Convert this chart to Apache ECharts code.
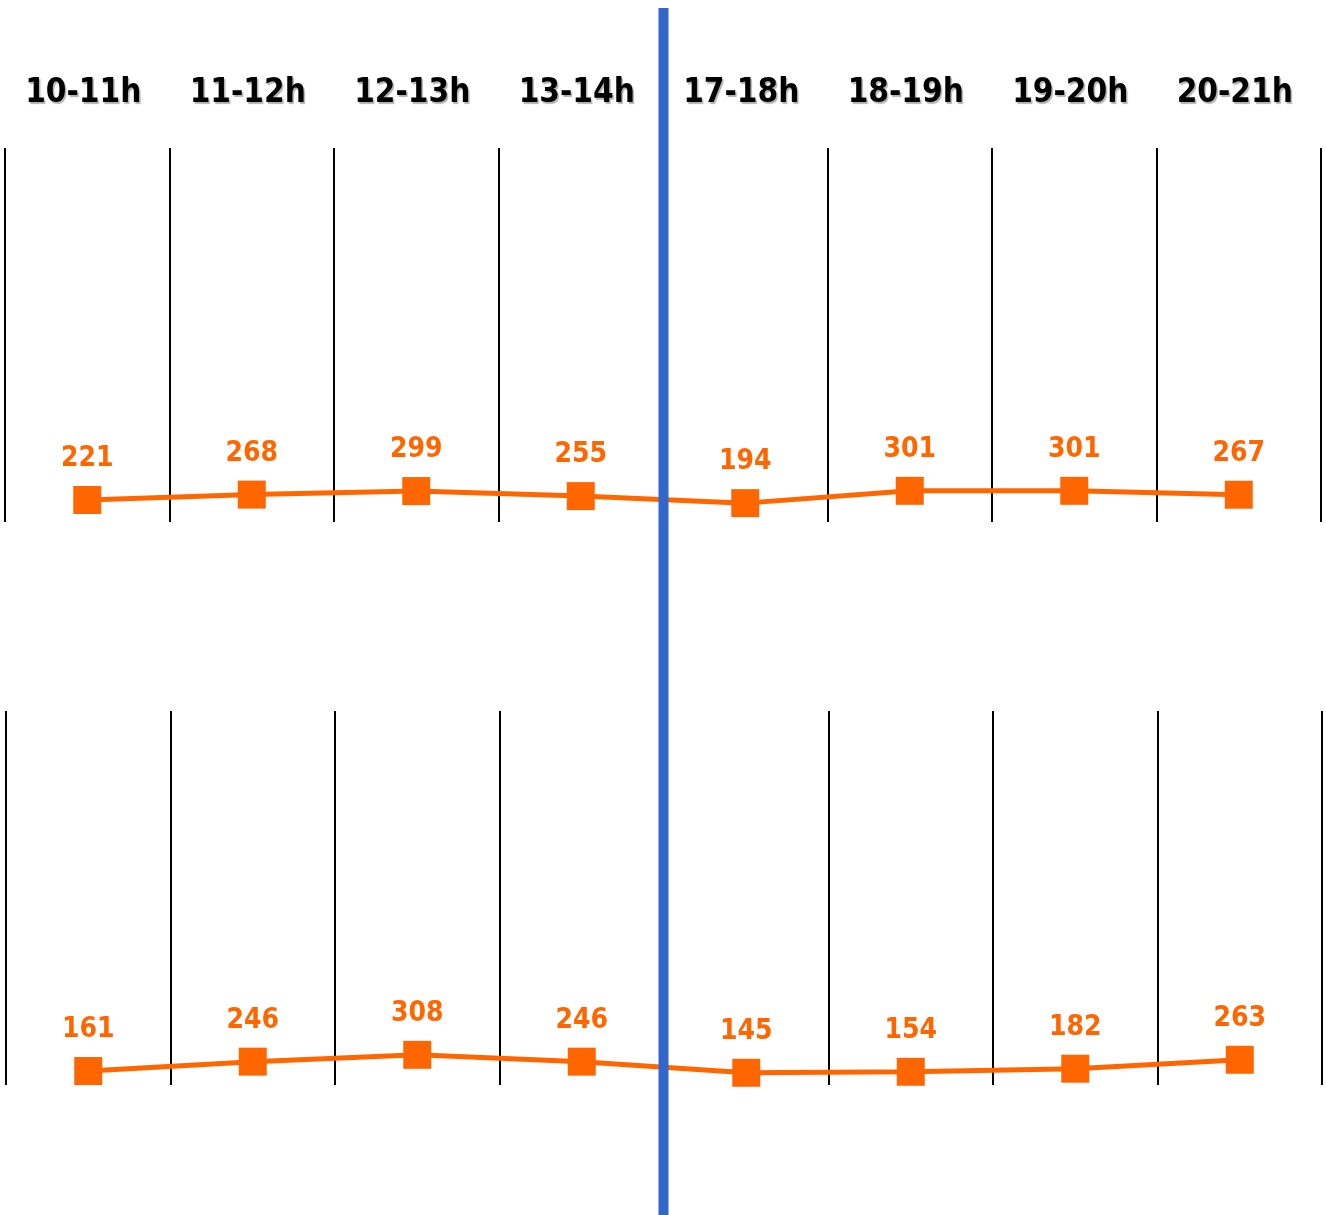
<!DOCTYPE html>
<html>
<head>
<meta charset="utf-8">
<script src="https://cdn.jsdelivr.net/npm/echarts@6/dist/echarts.min.js"></script>
<style>
html,body{margin:0;padding:0;background:#fff;}
#chart{width:1326px;height:1215px;}
</style>
</head>
<body>
<div id="chart"></div>
<script>
const categories = ['10-11h','11-12h','12-13h','13-14h','17-18h','18-19h','19-20h','20-21h'];
const seriesTop = [221, 268, 299, 255, 194, 301, 301, 267];
const seriesBottom = [161, 246, 308, 246, 145, 154, 182, 263];

const FONT = '"DejaVu Sans Condensed", "DejaVu Sans", sans-serif';
const ORANGE = '#FF6600';

const chart = echarts.init(document.getElementById('chart'), null, {renderer: 'canvas'});

function xAxisDef(gridIndex, showLabels) {
  return {
    type: 'category',
    gridIndex: gridIndex,
    data: categories,
    position: 'top',
    boundaryGap: true,
    axisLine: {show: false},
    axisTick: {show: false},
    axisLabel: {
      show: showLabels,
      margin: 38,
      color: '#000',
      fontFamily: FONT,
      fontWeight: 'bold',
      fontSize: 33,
      padding: [0, 8, 0, 0],
      textShadowColor: 'rgba(0,0,0,0.3)',
      textShadowOffsetX: 1.5,
      textShadowOffsetY: 1.5,
      textShadowBlur: 1
    },
    splitLine: {show: true, showMinLine: true, showMaxLine: true, lineStyle: {color: '#000', width: 2}}
  };
}

function lineSeries(data, idx) {
  return {
    type: 'line',
    xAxisIndex: idx,
    yAxisIndex: idx,
    data: data,
    symbol: 'rect',
    symbolSize: 28,
    lineStyle: {color: ORANGE, width: 5},
    itemStyle: {color: ORANGE},
    label: {
      show: true,
      position: 'top',
      distance: 13,
      color: ORANGE,
      fontFamily: FONT,
      fontWeight: 'bold',
      fontSize: 28
    },
    animation: false
  };
}

chart.setOption({
  animation: false,
  grid: [
    {left: 5, right: 5, top: 148, height: 374},
    {left: 6, right: 4, top: 711, height: 374}
  ],
  xAxis: [xAxisDef(0, true), xAxisDef(1, false)],
  yAxis: [
    {type: 'value', gridIndex: 0, min: 30, max: 3280, show: false, splitLine: {show: false}},
    {type: 'value', gridIndex: 1, min: 34, max: 3430, show: false, splitLine: {show: false}}
  ],
  series: [lineSeries(seriesTop, 0), lineSeries(seriesBottom, 1)]
});

// Blue divider at the boundary between the 4th and 5th categories
const p3 = chart.convertToPixel({xAxisIndex: 0}, 3);
const p4 = chart.convertToPixel({xAxisIndex: 0}, 4);
const bx = (p3 + p4) / 2;
chart.setOption({
  graphic: [{
    type: 'rect',
    z: 100,
    shape: {x: bx - 4.5, y: 8, width: 10, height: 1215},
    style: {fill: '#3366CC'}
  }]
});
</script>
</body>
</html>
